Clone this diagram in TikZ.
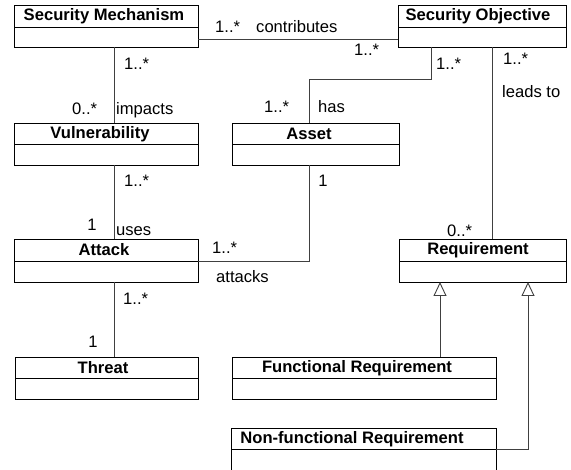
\documentclass[tikz,border=0pt]{standalone}
\usepackage{fontspec}
\setmainfont{Liberation Sans}
\usetikzlibrary{calc,arrows.meta}

% A UML class: name, left x, top y, width, height, header height, title centre x, title
\newcommand\umlclass[8]{%
  \node[cls, minimum width=#4pt, minimum height=#5pt] (#1) at (#2,#3) {};
  \draw[boxline] ($(#1.north west)+(0,#6)$) -- ($(#1.north east)+(0,#6)$);
  \node[hdr] (#1-title) at (#7,#3+#6/2) {#8};
}

\begin{document}
\begin{tikzpicture}[x=1pt,y=-1pt,
  boxline/.style={draw=black, line width=0.9pt},
  cls/.style={boxline, rectangle, inner sep=0pt, outer sep=0pt, anchor=north west},
  hdr/.style={font=\fontsize{16.6}{19}\selectfont\bfseries, inner sep=0pt},
  lbl/.style={font=\fontsize{16.6}{19}\selectfont, inner sep=0pt, anchor=base west},
  one/.style={font=\fontsize{16.6}{19}\selectfont, inner sep=0pt, anchor=base},
  assoc/.style={draw=black!75, line width=0.9pt},
  gen/.style={assoc, -{Triangle[open, length=14pt, width=13pt, fill=white]}},
]
\useasboundingbox (0,0) rectangle (571,470);
\clip (0,0) rectangle (571,470);

% classes
\umlclass{sm}{14}{5}{184}{42}{22}{104}{Security Mechanism}
\umlclass{so}{398}{5}{168}{42}{22}{478}{Security Objective}
\umlclass{vuln}{14}{123}{184}{42}{21.5}{100}{Vulnerability}
\umlclass{asset}{232}{123}{167}{42}{21.5}{309}{Asset}
\umlclass{attack}{14}{239}{184}{43}{22}{104}{Attack}
\umlclass{req}{399}{239}{167}{43}{22}{478}{Requirement}
\umlclass{threat}{15}{357}{183}{42}{21.5}{103}{Threat}
\umlclass{fr}{232}{357}{264}{42}{21.5}{357}{Functional Requirement}
\umlclass{nf}{231}{428}{265}{80}{21.5}{352}{Non-functional Requirement}

% associations
\draw[assoc] ($(sm.south east)+(0,-8)$) -- ($(so.south west)+(0,-8)$);
\draw[assoc] ($(sm.south west)+(100,0)$) -- ($(vuln.north west)+(100,0)$);
\draw[assoc] ($(so.south west)+(33,0)$) -- ++(0,32) -| ($(asset.north west)+(77,0)$);
\draw[assoc] ($(so.south west)+(94,0)$) -- ($(req.north west)+(93,0)$);
\draw[assoc] ($(vuln.south west)+(100,0)$) -- ($(attack.north west)+(100,0)$);
\draw[assoc] ($(asset.south west)+(77,0)$) |- ($(attack.north east)+(0,22)$);
\draw[assoc] ($(attack.south west)+(100,0)$) -- ($(threat.north west)+(99,0)$);

% generalisations
\draw[gen] ($(fr.north west)+(208,0)$) -- ($(req.south west)+(41,0)$);
\draw[gen] ($(nf.north east)+(0,21)$) -| ($(req.south west)+(129,0)$);

% multiplicities and association names
\node[lbl] (m1) at (215,33) {1..*};
\node[lbl] (n1) at (256,33) {contributes};
\node[lbl] (m2) at (354,56) {1..*};
\node[lbl] (m3) at (124,70) {1..*};
\node[lbl] (m4) at (72,115) {0..*};
\node[lbl] (n2) at (116,115) {impacts};
\node[lbl] (m5) at (436,70) {1..*};
\node[lbl] (m6) at (264,113) {1..*};
\node[lbl] (n3) at (318,113) {has};
\node[lbl] (m7) at (503,65) {1..*};
\node[lbl] (n4) at (502,98) {leads to};
\node[lbl] (m8) at (447,237) {0..*};
\node[lbl] (m9) at (124,187) {1..*};
\node[one] (m10) at (92,231) {1};
\node[lbl] (n5) at (116,236) {uses};
\node[one] (m11) at (323,187) {1};
\node[lbl] (m12) at (212,254) {1..*};
\node[lbl] (n6) at (216,283) {attacks};
\node[lbl] (m13) at (123,305) {1..*};
\node[one] (m14) at (93,348) {1};
\end{tikzpicture}
\end{document}
